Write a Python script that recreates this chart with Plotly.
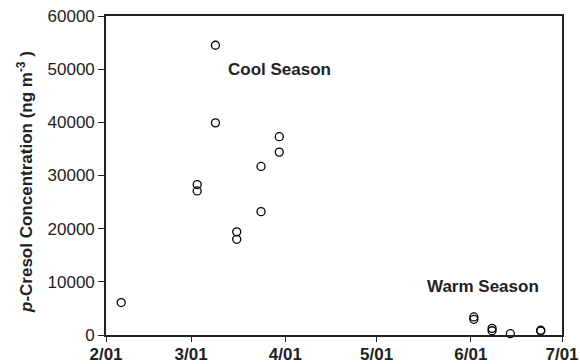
import plotly.graph_objects as go

# Sampling dates and p-cresol concentrations (ng m-3)
dates = ["2001-02-06", "2001-03-03", "2001-03-03", "2001-03-09", "2001-03-09",
         "2001-03-16", "2001-03-16", "2001-03-24", "2001-03-24", "2001-03-30",
         "2001-03-30", "2001-06-02", "2001-06-02", "2001-06-08", "2001-06-08",
         "2001-06-14", "2001-06-24", "2001-06-24"]
values = [6100, 28300, 27100, 54500, 39900,
          19400, 18000, 31700, 23200, 37300,
          34400, 3400, 2950, 1250, 800,
          250, 900, 750]

x_ticks = ["2001-02-01", "2001-03-01", "2001-04-01", "2001-05-01", "2001-06-01", "2001-07-01"]
x_tick_labels = ["2/01", "3/01", "4/01", "5/01", "6/01", "7/01"]
y_ticks = [0, 10000, 20000, 30000, 40000, 50000, 60000]
y_tick_labels = ["0", "10000", "20000", "30000", "40000", "50000", "60000"]

FONT = "Liberation Sans, Arial, sans-serif"
L, R, T, B, W, H = 106, 18, 16, 29, 580, 364

fig = go.Figure()
fig.add_trace(go.Scatter(
    x=dates, y=values, mode="markers",
    marker=dict(symbol="circle-open", size=8, color="black", line=dict(width=1.3, color="black")),
    cliponaxis=False, showlegend=False,
))

fig.add_annotation(x="2001-03-12 14:00", y=50000, xref="x", yref="y", text="<b>Cool Season</b>",
                   showarrow=False, xanchor="left", yanchor="middle",
                   font=dict(family=FONT, size=17, color="#222"))
fig.add_annotation(x="2001-05-17", y=9200, xref="x", yref="y", text="<b>Warm Season</b>",
                   showarrow=False, xanchor="left", yanchor="middle",
                   font=dict(family=FONT, size=17, color="#222"))

# y-axis title as rotated annotation for precise placement
plot_w = W - L - R
plot_h = H - T - B
fig.add_annotation(x=(25 - L) / plot_w, y=(H - B - 182) / plot_h, xref="paper", yref="paper",
                   text="<b><i>p</i>-Cresol Concentration (ng m<sup>-3</sup> )</b>",
                   textangle=-90, showarrow=False, xanchor="center", yanchor="middle",
                   font=dict(family=FONT, size=17, color="#222"))

fig.update_layout(
    width=W, height=H,
    margin=dict(l=L, r=R, t=T, b=B),
    paper_bgcolor="white", plot_bgcolor="white",
    font=dict(family=FONT, color="#222"),
    xaxis=dict(
        type="date", range=["2001-02-01", "2001-07-01"],
        tickvals=x_ticks, ticktext=x_tick_labels,
        tickfont=dict(family=FONT, size=17, color="#222", weight="bold"),
        ticks="outside", ticklen=5, tickwidth=1.3, tickcolor="#222",
        showline=True, linecolor="#222", linewidth=1.6, mirror=True,
        showgrid=False, zeroline=False, automargin=False, ticklabelstandoff=-2,
    ),
    yaxis=dict(
        range=[0, 60000], tickvals=y_ticks, ticktext=y_tick_labels,
        tickfont=dict(family=FONT, size=17, color="#222"),
        ticks="outside", ticklen=6, tickwidth=1.3, tickcolor="#222",
        showline=True, linecolor="#222", linewidth=1.6, mirror=True,
        showgrid=False, zeroline=False, automargin=False,
    ),
)

fig.write_html("out.html")
